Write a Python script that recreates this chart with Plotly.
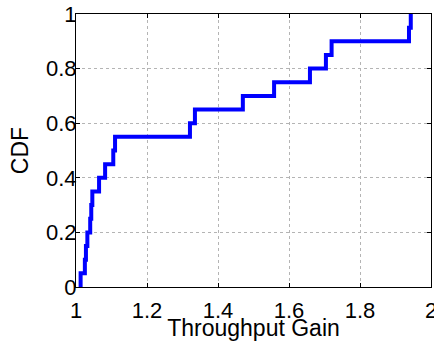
import plotly.graph_objects as go

# Step positions (throughput gain)
gain = [1.013, 1.025, 1.028, 1.032, 1.040, 1.043, 1.046, 1.065, 1.082, 1.105,
        1.110, 1.321, 1.335, 1.470, 1.558, 1.659, 1.704, 1.720, 1.938, 1.943]
cdf = [0.05, 0.10, 0.15, 0.20, 0.25, 0.30, 0.35, 0.40, 0.45, 0.50,
       0.55, 0.60, 0.65, 0.70, 0.75, 0.80, 0.85, 0.90, 0.95, 1.00]
x_ticks = [1, 1.2, 1.4, 1.6, 1.8, 2]
x_labels = ["1", "1.2", "1.4", "1.6", "1.8", "2"]
y_ticks = [0, 0.2, 0.4, 0.6, 0.8, 1]
y_labels = ["0", "0.2", "0.4", "0.6", "0.8", "1"]

xs = [gain[0]] + gain
ys = [0] + cdf

fig = go.Figure()
fig.add_trace(go.Scatter(x=xs, y=ys, mode="lines", line_shape="hv",
                         line=dict(color="#0000FF", width=4),
                         showlegend=False, hoverinfo="skip"))

font = dict(family="Liberation Sans, Arial, sans-serif", size=22, color="black")
title_font = dict(family="Liberation Sans, Arial, sans-serif", size=23, color="black")
axis_common = dict(
    showline=True, linecolor="black", linewidth=1, mirror="ticks",
    ticks="inside", ticklen=4, tickcolor="black",
    showgrid=True, gridcolor="#b4b4b4", griddash="dot", gridwidth=1,
    zeroline=False, tickfont=font, automargin=False,
    ticklabeloverflow="allow",
)
fig.update_xaxes(range=[1, 2], tickvals=x_ticks, ticktext=x_labels,
                 ticklabelstandoff=4,
                 title=dict(text="Throughput Gain", font=title_font, standoff=4),
                 **axis_common)
fig.update_yaxes(range=[0, 1], tickvals=y_ticks, ticktext=y_labels,
                 ticklabelstandoff=-6,
                 title=dict(text="CDF", font=title_font, standoff=10),
                 **axis_common)
fig.update_layout(
    width=434, height=341,
    margin=dict(l=76, r=3, t=14, b=54),
    paper_bgcolor="white", plot_bgcolor="white",
    font=font,
)
fig.write_html("out.html", config={"displayModeBar": False},
               post_script="document.body.style.margin='0';")
